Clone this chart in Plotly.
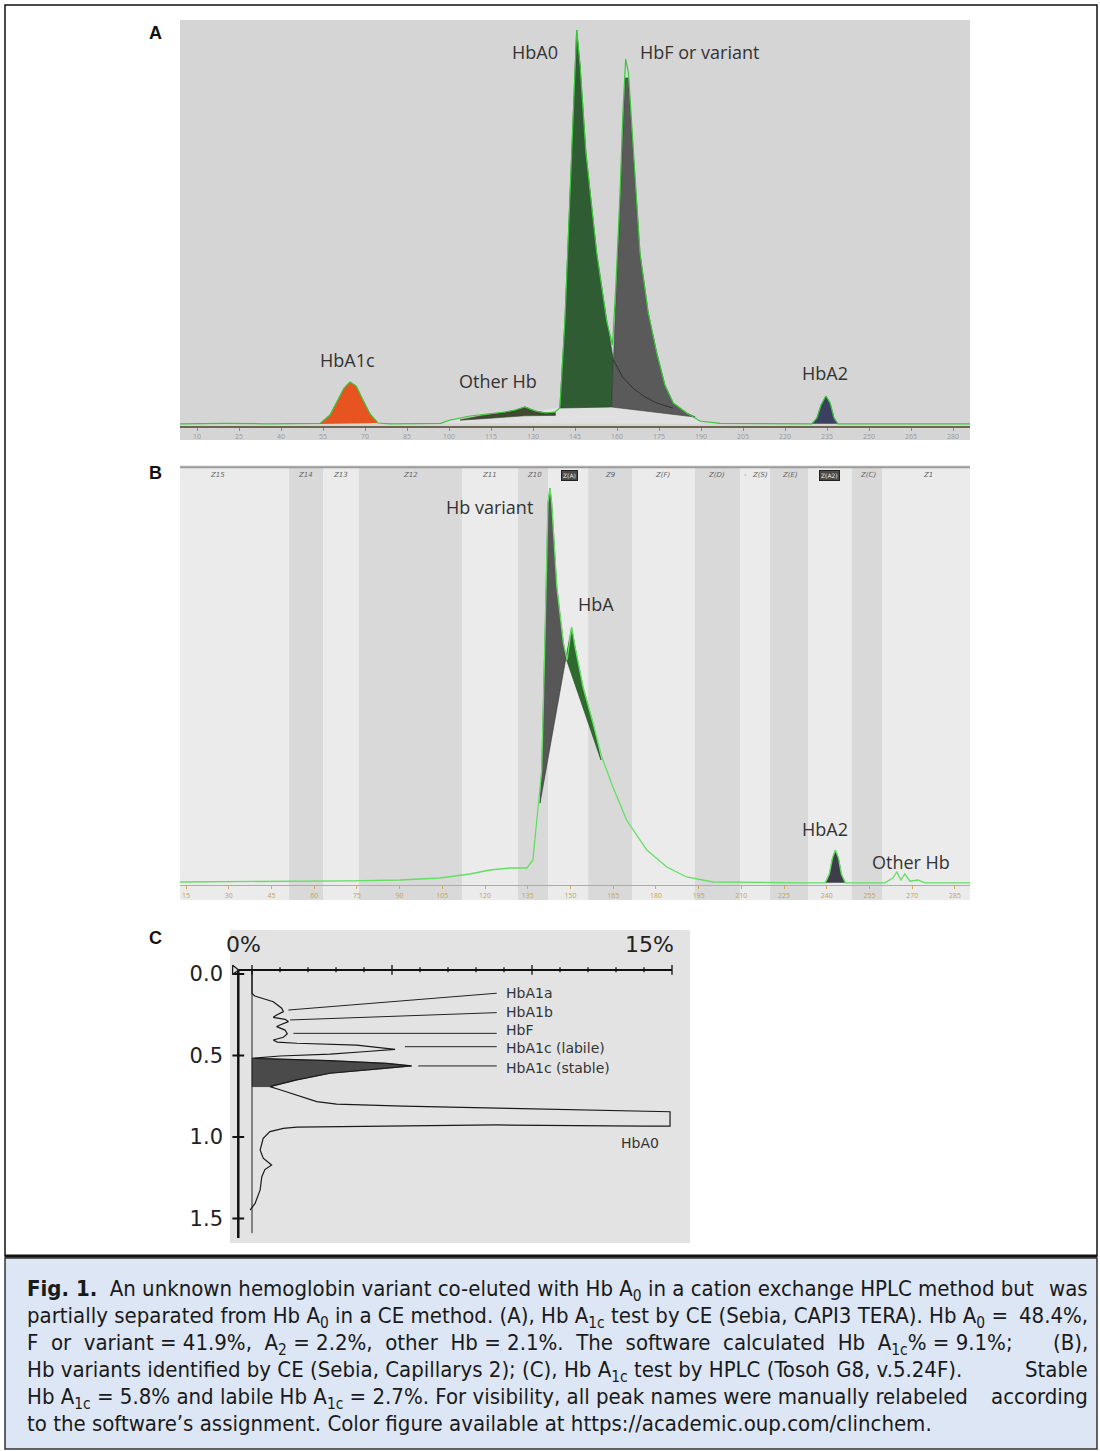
import plotly.graph_objects as go

W, H = 1100, 1451

# ---------------- Panel A : Hb A1c test by CE (CAPI3 TERA) ----------------
a_ticks = [10, 25, 40, 55, 70, 85, 100, 115, 130, 145, 160, 175, 190, 205, 220, 235, 250, 265, 280]
a_tick_text = ["10", "25", "40", "55", "70", "85", "100", "115", "130", "145", "160", "175",
               "190", "205", "220", "235", "250", "265", "280"]

a_trace_x = [3.9, 20, 35, 50, 53.9, 57.5, 60.4, 62.5, 64.6, 66.8, 68.9, 71.8, 74.6, 79, 97, 100.4,
             107.5, 114.6, 120, 123.6, 127.1, 130.7, 134.3, 137.9, 139.6, 141.4, 143.2, 144.6, 145.6,
             146.8, 148.9, 152.75, 156.3, 158.4, 159.6, 161.1, 162.1, 163.1, 164.1, 166.1, 168.2,
             171.1, 174.2, 177.1, 180.1, 184.9, 189.6, 196.8, 225.4, 229.6, 231.4, 232.9, 234.6,
             236.1, 237.5, 238.9, 261, 286.1]
a_trace_y = [0.3, 0.4, 0.3, 0.3, 0.4, 2.5, 6.25, 9.25, 10.75, 9.75, 6.75, 2.75, 0.5, 0.3, 0.4, 1.25,
             2.25, 2.75, 3.25, 3.75, 4.5, 3.5, 3.0, 3.25, 4.25, 26, 57, 82, 98.75,
             90, 68, 43, 26, 20, 35, 58, 78, 91.5, 88, 66, 43,
             28.25, 18, 10, 5.5, 3, 1, 0.4, 0.3, 0.3, 1.75, 5, 7.25,
             5.5, 1.75, 0.3, 0.3, 0.3]

a_hba1c_x = [53.9, 57.5, 60.4, 62.5, 64.6, 66.8, 68.9, 71.8, 74.6]
a_hba1c_y = [0.25, 2.5, 6.25, 9.25, 10.75, 9.75, 6.75, 2.75, 0.5]

a_other_x = [104, 112, 120, 124, 127.1, 131, 135, 138, 138, 127, 115, 104]
a_other_y = [1.3, 2.4, 3.2, 3.75, 4.5, 3.5, 3.0, 3.2, 2.4, 2.3, 1.7, 1.2]

a_base_x = [96.8, 139.6, 158, 186, 190, 96.8]
a_base_y = [0.5, 4.25, 4.5, 2.5, 0.4, 0.5]

a_hba0_x = [139.6, 141.4, 143.2, 144.6, 145.6, 146.8, 148.9, 152.75, 156.3, 158.7, 158.1, 139.6]
a_hba0_y = [4.25, 26, 57, 82, 98.75, 90, 68, 43, 26.25, 16.25, 4.5, 4.25]

a_hbf_x = [158.1, 158.7, 159.6, 160.7, 161.8, 162.9, 164.0, 166.1, 168.2, 171.1, 174.2, 177.1,
           180.1, 184.9, 187.9, 158.1]
a_hbf_y = [4.5, 16.25, 31.25, 49.5, 68, 86.75, 86.75, 65, 43, 28.25, 18, 10, 5.5, 3, 2, 4.5]

a_tail_x = [158.7, 162, 166, 170, 174.2, 180]
a_tail_y = [16.25, 12, 9, 7, 5.5, 4.2]

a_hba2_x = [229.6, 231.4, 232.9, 234.6, 236.1, 237.5, 238.9]
a_hba2_y = [0.3, 1.75, 5, 7.25, 5.5, 1.75, 0.3]

a_labels = ["HbA0", "HbF or variant", "HbA1c", "Other Hb", "HbA2"]
a_label_x = [130.7, 189.6, 63.9, 117.5, 234.3]
a_label_y = [93.25, 93.25, 16.25, 11, 13]

# ---------------- Panel B : Hb variants by CE (Capillarys 2) ----------------
b_ticks = [15, 30, 45, 60, 75, 90, 105, 120, 135, 150, 165, 180, 195, 210, 225, 240, 255, 270, 285]
b_tick_text = ["15", "30", "45", "60", "75", "90", "105", "120", "135", "150", "165", "180",
               "195", "210", "225", "240", "255", "270", "285"]

b_trace_x = [12.9, 48, 72.6, 90.1, 104.2, 114.7, 121.7, 128.8, 134.7, 136.8, 138.6, 139.9, 141.05,
             142.1, 142.8, 143.4, 145.2, 147.5, 148.8, 150.4, 151.6, 154.4, 157.9, 161, 164.9,
             169.7, 176.8, 183.8, 190.8, 200, 230.6, 239.5, 240.9, 242, 243, 244.1, 245.1, 246.5,
             260.4, 263.2, 264.6, 266, 267.4, 269.2, 272, 274.5, 290.3]
b_trace_y = [0.5, 0.6, 0.8, 1.0, 1.5, 2.5, 3.5, 4.0, 4.0, 6, 20.25, 28.5, 61.75,
             95.25, 99, 95.25, 74.25, 60.25, 56, 64.25, 59.25, 49.25, 40.25, 31.75, 24.25,
             16, 8.5, 4.25, 1.75, 0.5, 0.3, 0.3, 2.5, 6.5, 8.5, 6.5, 2.5, 0.3,
             0.3, 1.5, 3, 1, 2.5, 0.7, 1, 0.3, 0.3]

b_var_x = [139.3, 139.9, 141.05, 142.1, 142.8, 143.4, 145.2, 147.5, 148.4, 139.3]
b_var_y = [20.2, 28.5, 61.75, 95.25, 99, 95.25, 74.25, 60.25, 56.5, 20.2]

b_hba_x = [148.4, 150.4, 151.6, 154.4, 157.9, 160.7, 148.4]
b_hba_y = [56.5, 64.25, 59.25, 49.25, 40.25, 31, 56.5]

b_hba2_x = [239.5, 240.9, 242, 243, 244.1, 245.1, 246.5]
b_hba2_y = [0.3, 2.5, 6.5, 8.5, 6.5, 2.5, 0.3]

b_band_x0 = [51.2, 75.7, 131.6, 156.2, 193.7, 220.1, 248.8]
b_band_x1 = [63.1, 111.9, 142.1, 171.6, 209.5, 233.4, 259.4]

b_zone_x = [26.2, 56.8, 69.4, 93.7, 121.7, 137.5, 163.9, 182.5, 201.4, 211.3, 216.5, 227.1, 254.5, 275.5]
b_zone_lab = ["Z15", "Z14", "Z13", "Z12", "Z11", "Z10", "Z9", "Z(F)", "Z(D)", "-", "Z(S)", "Z(E)",
              "Z(C)", "Z1"]
b_badge_x = [149.5, 241.1]
b_badge_lab = ["Z(A)", "Z(A2)"]
b_zone_y = 102.25

b_labels = ["Hb variant", "HbA", "HbA2", "Other Hb"]
b_label_x = [121.7, 159.0, 239.4, 269.6]
b_label_y = [94.25, 70, 13.75, 5.5]

# ---------------- Panel C : Hb A1c test by HPLC (Tosoh G8) ----------------
c_trace_pct = [0, 0, 0.1, 0.4, 0.76, 1.06, 1.12, 0.88, 0.76, 1.18, 1.3, 1.0, 0.88, 1.18, 1.26, 1.12,
               0.76, 0.9, 1.6, 3.74, 4.81, 5.11, 3.98, 2.79, 1.0, 0.17, 0.0, 2.79, 4.81, 5.7, 4.81,
               2.79, 1.6, 0.64, 1.0, 2.31, 3.02, 5.4, 9.2, 13.98, 14.93, 14.93, 13.98, 8.74, 3.38,
               1.6, 1.12, 0.64, 0.4, 0.29, 0.4, 0.7, 0.46, 0.35, 0.29, 0.11, -0.07]
c_trace_t = [-0.02, 0.12, 0.135, 0.149, 0.17, 0.21, 0.231, 0.252, 0.266, 0.278, 0.292, 0.313, 0.323,
             0.344, 0.368, 0.388, 0.405, 0.418, 0.425, 0.436, 0.456, 0.462, 0.477, 0.491, 0.503,
             0.511, 0.517, 0.532, 0.548, 0.564, 0.579, 0.609, 0.65, 0.691, 0.71, 0.783, 0.798,
             0.81, 0.824, 0.839, 0.845, 0.933, 0.933, 0.926, 0.937, 0.94, 0.947, 0.967, 1.008,
             1.08, 1.13, 1.172, 1.2, 1.244, 1.325, 1.407, 1.448]

c_stable_pct = [0, 2.79, 4.81, 5.7, 4.81, 2.79, 1.6, 0.64, 0, 0]
c_stable_t = [0.517, 0.532, 0.548, 0.564, 0.579, 0.609, 0.65, 0.691, 0.691, 0.517]

c_time_ticks = [0.0, 0.5, 1.0, 1.5]
c_time_text = ["0.0", "0.5", "1.0", "1.5"]
c_pct_ticks = [0, 1, 2, 3, 4, 5, 6, 7, 8, 9, 10, 11, 12, 13, 14, 15]
c_pct_major = [0, 5, 10, 15]

c_lead_x0 = [1.3, 1.36, 1.48, 5.46, 5.94]
c_lead_t0 = [0.221, 0.282, 0.364, 0.446, 0.564]
c_lead_x1 = [8.74, 8.74, 8.74, 8.74, 8.74]
c_lead_t1 = [0.118, 0.237, 0.364, 0.446, 0.564]
c_labels = ["HbA1a", "HbA1b", "HbF", "HbA1c (labile)", "HbA1c (stable)"]
c_label_t = [0.117, 0.233, 0.344, 0.454, 0.577]

caption_lines = [
    ("<b>Fig. 1.</b>  An unknown hemoglobin variant co-eluted with Hb A<sub>0</sub> in a cation exchange HPLC method but", "was"),
    ("partially separated from Hb A<sub>0</sub> in a CE method. (A), Hb A<sub>1c</sub> test by CE (Sebia, CAPI3 TERA). Hb A<sub>0</sub> =", "48.4%,"),
    ("F  or  variant = 41.9%,  A<sub>2</sub> = 2.2%,  other  Hb = 2.1%.  The  software  calculated  Hb  A<sub>1c</sub>% = 9.1%;", "(B),"),
    ("Hb variants identified by CE (Sebia, Capillarys 2); (C), Hb A<sub>1c</sub> test by HPLC (Tosoh G8, v.5.24F).", "Stable"),
    ("Hb A<sub>1c</sub> = 5.8% and labile Hb A<sub>1c</sub> = 2.7%. For visibility, all peak names were manually relabeled", "according"),
    ("to the software\u2019s assignment. Color figure available at https://academic.oup.com/clinchem.", ""),
]
caption_top_py = [1274, 1301, 1328, 1355, 1382, 1409]


def px(x):
    return x / W


def py(y):
    return 1 - y / H


fig = go.Figure()

# ---- Panel A traces ----
def afill(x, y, color, line=None):
    fig.add_trace(go.Scatter(x=x, y=y, xaxis="x", yaxis="y", mode="lines", fill="toself",
                             fillcolor=color, line=dict(color=line or color, width=0.6),
                             hoverinfo="skip", showlegend=False))

afill(a_base_x, a_base_y, "#e0e0e0", "#e0e0e0")
afill(a_hba1c_x, a_hba1c_y, "#e8541f", "#d4461a")
afill(a_other_x, a_other_y, "#3f4a30", "#3f4a30")
afill(a_hba0_x, a_hba0_y, "#2f5c33", "#1f3f22")
afill(a_hbf_x, a_hbf_y, "#5a5a5a", "#3a3a3a")
afill(a_hba2_x, a_hba2_y, "#3a4060", "#2a3050")
fig.add_trace(go.Scatter(x=a_tail_x, y=a_tail_y, xaxis="x", yaxis="y", mode="lines",
                         line=dict(color="#262626", width=0.8), hoverinfo="skip", showlegend=False))
fig.add_trace(go.Scatter(x=a_trace_x, y=a_trace_y, xaxis="x", yaxis="y", mode="lines",
                         line=dict(color="#39c839", width=1.2), hoverinfo="skip", showlegend=False))

# ---- Panel B traces ----
def bfill(x, y, color, line=None):
    fig.add_trace(go.Scatter(x=x, y=y, xaxis="x2", yaxis="y2", mode="lines", fill="toself",
                             fillcolor=color, line=dict(color=line or color, width=0.6),
                             hoverinfo="skip", showlegend=False))

bfill(b_var_x, b_var_y, "#575757", "#333333")
bfill(b_hba_x, b_hba_y, "#2e6a2e", "#1f4a1f")
bfill(b_hba2_x, b_hba2_y, "#3e3e4a", "#2a2a35")
fig.add_trace(go.Scatter(x=b_trace_x, y=b_trace_y, xaxis="x2", yaxis="y2", mode="lines",
                         line=dict(color="#62e062", width=1.3), hoverinfo="skip", showlegend=False))

# ---- Panel C traces ----
fig.add_trace(go.Scatter(x=c_stable_pct, y=c_stable_t, xaxis="x3", yaxis="y3", mode="lines",
                         fill="toself", fillcolor="#4a4a4a", line=dict(color="#222", width=0.5),
                         hoverinfo="skip", showlegend=False))
fig.add_trace(go.Scatter(x=[0, 0], y=[-0.02, 1.59], xaxis="x3", yaxis="y3", mode="lines",
                         line=dict(color="#222", width=1), hoverinfo="skip", showlegend=False))
fig.add_trace(go.Scatter(x=c_trace_pct, y=c_trace_t, xaxis="x3", yaxis="y3", mode="lines",
                         line=dict(color="#1a1a1a", width=1.2), hoverinfo="skip", showlegend=False))
fig.add_trace(go.Scatter(x=[-0.49, -0.49], y=[-0.03, 1.62], xaxis="x3", yaxis="y3", mode="lines",
                         line=dict(color="#111", width=2.5), hoverinfo="skip", showlegend=False))
tx, ty = [], []
for t in c_time_ticks:
    tx += [-0.7, -0.28, None]
    ty += [t, t, None]
fig.add_trace(go.Scatter(x=tx, y=ty, xaxis="x3", yaxis="y3", mode="lines",
                         line=dict(color="#111", width=2), hoverinfo="skip", showlegend=False))
fig.add_trace(go.Scatter(x=[-0.7, 15.0], y=[-0.025, -0.025], xaxis="x3", yaxis="y3", mode="lines",
                         line=dict(color="#111", width=2), hoverinfo="skip", showlegend=False))
hx, hy = [], []
for p in c_pct_ticks:
    hx += [p, p, None]
    if p in c_pct_major:
        hy += [-0.055, 0.005, None]
    else:
        hy += [-0.042, -0.01, None]
fig.add_trace(go.Scatter(x=hx, y=hy, xaxis="x3", yaxis="y3", mode="lines",
                         line=dict(color="#111", width=1.3), hoverinfo="skip", showlegend=False))
fig.add_trace(go.Scatter(x=[-0.62], y=[-0.025], xaxis="x3", yaxis="y3", mode="markers",
                         marker=dict(symbol="triangle-right", size=8, color="#e3e3e3",
                                     line=dict(color="#111", width=1.2)),
                         hoverinfo="skip", showlegend=False))
lx, ly = [], []
for x0, t0, x1, t1 in zip(c_lead_x0, c_lead_t0, c_lead_x1, c_lead_t1):
    lx += [x0, x1, None]
    ly += [t0, t1, None]
fig.add_trace(go.Scatter(x=lx, y=ly, xaxis="x3", yaxis="y3", mode="lines",
                         line=dict(color="#222", width=1), hoverinfo="skip", showlegend=False))

# ---------------- shapes ----------------
shapes = []
shapes.append(dict(type="rect", xref="paper", yref="paper", x0=px(5), x1=px(1097), y0=py(1256), y1=py(5),
                   line=dict(color="#111", width=1.5), fillcolor="rgba(0,0,0,0)", layer="below"))
shapes.append(dict(type="rect", xref="paper", yref="paper", x0=px(5), x1=px(1097), y0=py(1449), y1=py(1258),
                   line=dict(color="#333", width=1.5), fillcolor="#dce6f4", layer="below"))
shapes.append(dict(type="line", xref="paper", yref="paper", x0=px(5), x1=px(1097), y0=py(1256), y1=py(1256),
                   line=dict(color="#111", width=3)))
shapes.append(dict(type="rect", xref="x domain", yref="y domain", x0=0, x1=1, y0=0, y1=1,
                   fillcolor="#d5d5d5", line=dict(width=0), layer="below"))
shapes.append(dict(type="rect", xref="x2 domain", yref="y2 domain", x0=0, x1=1, y0=0, y1=1,
                   fillcolor="#ebebeb", line=dict(width=0), layer="below"))
for x0, x1 in zip(b_band_x0, b_band_x1):
    shapes.append(dict(type="rect", xref="x2", yref="y2 domain", x0=x0, x1=x1, y0=0, y1=0.995,
                       fillcolor="#d9d9d9", line=dict(width=0), layer="below"))
shapes.append(dict(type="line", xref="x2 domain", yref="y2 domain", x0=0, x1=1, y0=0.995, y1=0.995,
                   line=dict(color="#9a9a9a", width=2), layer="below"))
shapes.append(dict(type="rect", xref="x3 domain", yref="y3 domain", x0=0, x1=1, y0=0, y1=1,
                   fillcolor="#e3e3e3", line=dict(width=0), layer="below"))

# ---------------- annotations ----------------
ann = []
for lab, yy in zip(["A", "B", "C"], [33, 473, 938]):
    ann.append(dict(text=f"<b>{lab}</b>", xref="paper", yref="paper", x=px(155), y=py(yy),
                    xanchor="center", yanchor="middle", showarrow=False,
                    font=dict(family="Liberation Sans, Arial", size=18, color="#111")))
peak_font = dict(family="Open Sans, DejaVu Sans", size=18, color="#333")
for t, x, y in zip(a_labels, a_label_x, a_label_y):
    ann.append(dict(text=t, xref="x", yref="y", x=x, y=y, showarrow=False, font=peak_font))
for t, x, y in zip(b_labels, b_label_x, b_label_y):
    ann.append(dict(text=t, xref="x2", yref="y2", x=x, y=y, showarrow=False, font=peak_font))
for t, x in zip(b_zone_lab, b_zone_x):
    ann.append(dict(text=f"<i>{t}</i>", xref="x2", yref="y2", x=x, y=b_zone_y, showarrow=False,
                    font=dict(family="DejaVu Sans", size=7, color="#666")))
for t, x in zip(b_badge_lab, b_badge_x):
    ann.append(dict(text=t, xref="x2", yref="y2", x=x, y=b_zone_y, showarrow=False,
                    bgcolor="#4a4a4a", bordercolor="#222", borderwidth=1, borderpad=1,
                    font=dict(family="DejaVu Sans", size=6, color="#eee")))
c_font = dict(family="DejaVu Sans", size=14, color="#333")
for t, tt in zip(c_labels, c_label_t):
    ann.append(dict(text=t, xref="x3", yref="y3", x=9.0, y=tt, xanchor="left", showarrow=False,
                    font=c_font))
ann.append(dict(text="HbA0", xref="x3", yref="y3", x=13.86, y=1.037, showarrow=False, font=c_font))
ann.append(dict(text="0%", xref="x3", yref="y3", x=-0.29, y=-0.178, showarrow=False,
                font=dict(family="DejaVu Sans", size=22, color="#222")))
ann.append(dict(text="15%", xref="x3", yref="y3", x=14.21, y=-0.178, showarrow=False,
                font=dict(family="DejaVu Sans", size=22, color="#222")))

cap_font = dict(family="Liberation Sans Narrow, DejaVu Sans Condensed, Arial Narrow, sans-serif",
                size=22, color="#1a1a1a")
for (left, right), yy in zip(caption_lines, caption_top_py):
    ann.append(dict(text=left, xref="paper", yref="paper", x=px(25), y=py(yy), xanchor="left",
                    yanchor="top", showarrow=False, font=cap_font))
    if right:
        ann.append(dict(text=right, xref="paper", yref="paper", x=px(1090), y=py(yy), xanchor="right",
                        yanchor="top", showarrow=False, font=cap_font))

axis_off = dict(visible=False, showgrid=False, zeroline=False, fixedrange=True)

fig.update_layout(
    width=W, height=H, margin=dict(l=0, r=0, t=0, b=0),
    paper_bgcolor="white", plot_bgcolor="rgba(0,0,0,0)", showlegend=False,
    shapes=shapes, annotations=ann,
    xaxis=dict(domain=[px(180), px(970)], range=[3.93, 286.07], anchor="free", position=py(426),
               showline=True, linecolor="#6e6650", linewidth=1.5, ticks="outside", ticklen=3,
               tickcolor="#8a8a8a", tickvals=a_ticks, ticktext=a_tick_text,
               tickfont=dict(size=7, color="#9a9a9a"), showgrid=False, zeroline=False),
    yaxis=dict(domain=[py(440), py(20)], range=[-3.75, 101.25], anchor="x", **axis_off),
    xaxis2=dict(domain=[px(180), px(970)], range=[12.89, 290.28], anchor="free", position=py(885),
                showline=True, linecolor="#d2a860", linewidth=1.2, ticks="outside", ticklen=3,
                tickcolor="#d2a860", tickvals=b_ticks, ticktext=b_tick_text,
                tickfont=dict(size=7, color="#c8a050"), showgrid=False, zeroline=False),
    yaxis2=dict(domain=[py(900), py(465)], range=[-4, 104.75], anchor="x2", **axis_off),
    xaxis3=dict(domain=[px(230), px(690)], range=[-0.786, 15.643], anchor="y3", **axis_off),
    yaxis3=dict(domain=[py(1243), py(930)], range=[1.6503, -0.2699], anchor="x3", visible=True,
                showgrid=False, zeroline=False, showline=False, ticks="", tickvals=c_time_ticks,
                ticktext=c_time_text, ticklabelstandoff=6,
                tickfont=dict(family="DejaVu Sans", size=21, color="#222")),
)

fig.write_html("out.html", config={"displayModeBar": False, "staticPlot": True},
               post_script="document.body.style.margin='0';document.body.style.overflow='hidden';")
